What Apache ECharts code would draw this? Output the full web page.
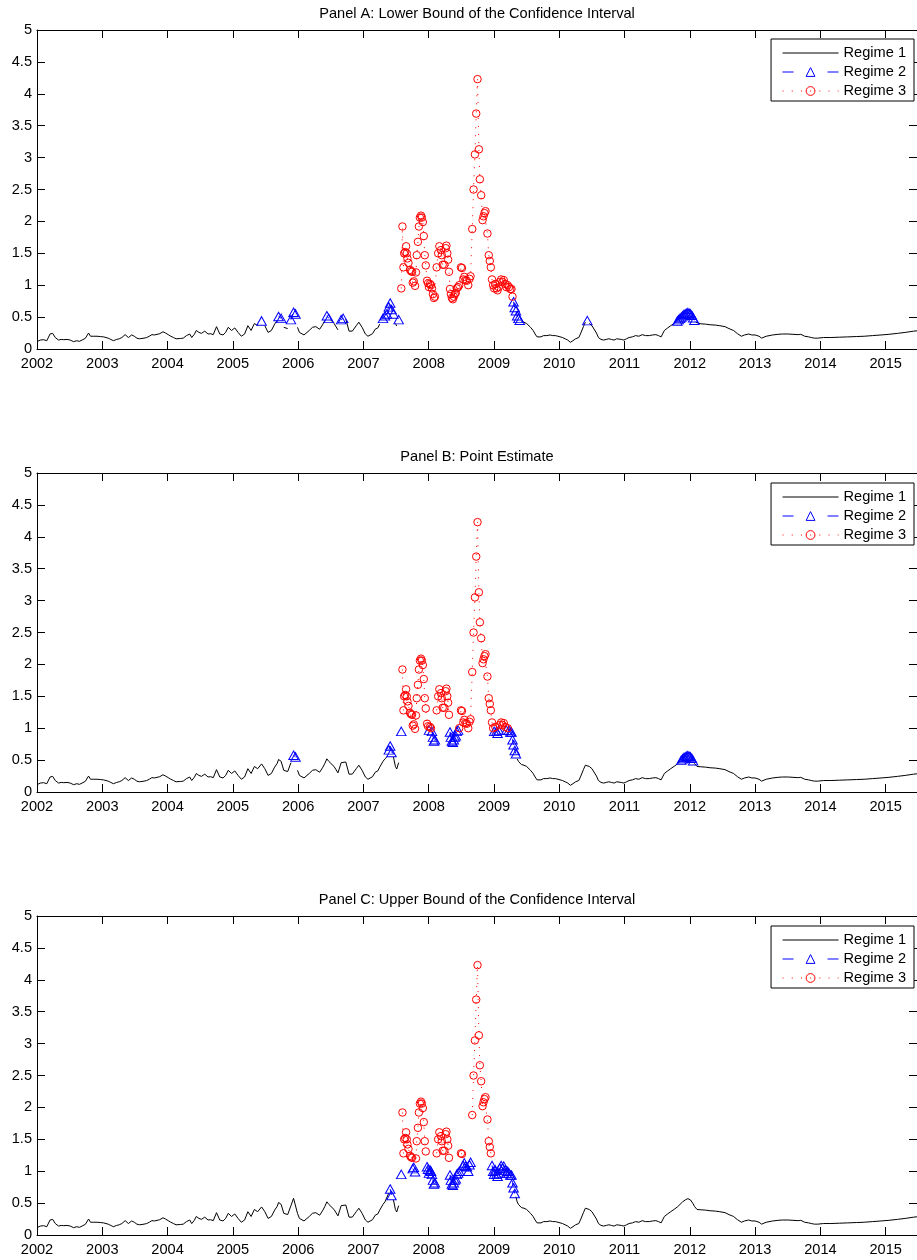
<!DOCTYPE html>
<html>
<head>
<meta charset="utf-8">
<script src="https://cdn.jsdelivr.net/npm/echarts@6/dist/echarts.min.js"></script>
<style>
html,body{margin:0;padding:0;background:#fff;}
#chart{width:917px;height:1260px;}
</style>
</head>
<body>
<div id="chart"></div>
<script>
// ---------------- DATA ----------------
const panelTitles = [
  'Panel A: Lower Bound of the Confidence Interval',
  'Panel B: Point Estimate',
  'Panel C: Upper Bound of the Confidence Interval'
];
const regimeNames = ['Regime 1', 'Regime 2', 'Regime 3'];
const xTickYears = [2002,2003,2004,2005,2006,2007,2008,2009,2010,2011,2012,2013,2014,2015];
const yTicks = [0,0.5,1,1.5,2,2.5,3,3.5,4,4.5,5];

// Observation dates (decimal years) and values, pre-crisis
const preDates = [
  2002.00,2002.05,2002.10,2002.15,2002.20,2002.24,2002.28,2002.33,2002.37,2002.41,
  2002.46,2002.51,2002.56,2002.61,2002.65,2002.69,2002.74,2002.79,2002.82,2002.87,
  2002.92,2002.97,2003.02,2003.09,2003.13,2003.17,2003.22,2003.26,2003.30,2003.35,
  2003.40,2003.45,2003.49,2003.53,2003.57,2003.60,2003.64,2003.68,2003.72,2003.76,
  2003.80,2003.83,2003.88,2003.93,2003.97,2004.01,2004.05,2004.09,2004.13,2004.16,
  2004.20,2004.24,2004.29,2004.34,2004.37,2004.41,2004.44,2004.48,2004.52,2004.57,
  2004.62,2004.66,2004.70,2004.75,2004.80,2004.85,2004.89,2004.93,2004.98,2005.03,
  2005.08,2005.13,2005.18,2005.23,2005.28,2005.33,2005.38,2005.44,2005.49,2005.54,
  2005.59,2005.64,2005.68,2005.70,2005.74,2005.78,2005.84,2005.89,2005.93,2005.96,
  2005.99,2006.02,2006.05,2006.09,2006.12,2006.17,2006.22,2006.27,2006.33,2006.38,
  2006.41,2006.44,2006.47,2006.50,2006.55,2006.61,2006.66,2006.69,2006.73,2006.78,
  2006.83,2006.89,2006.93,2006.98,2007.03,2007.07,2007.10,2007.14,2007.18,2007.22,
  2007.25,2007.30,2007.33,2007.36,2007.39,2007.41,2007.43,2007.46,2007.49,2007.51,
  2007.54
];
const preValues = [
  0.115,0.14,0.146,0.13,0.235,0.245,0.18,0.14,0.15,0.146,
  0.15,0.14,0.115,0.13,0.12,0.14,0.167,0.25,0.2,0.2,
  0.2,0.195,0.19,0.17,0.15,0.13,0.15,0.16,0.18,0.225,
  0.18,0.22,0.2,0.17,0.16,0.15,0.17,0.18,0.2,0.225,
  0.22,0.21,0.24,0.27,0.25,0.225,0.2,0.18,0.16,0.157,
  0.165,0.17,0.21,0.235,0.18,0.23,0.29,0.26,0.245,0.28,
  0.235,0.24,0.225,0.35,0.235,0.22,0.26,0.34,0.29,0.33,
  0.26,0.2,0.235,0.365,0.29,0.40,0.365,0.44,0.365,0.26,
  0.29,0.39,0.45,0.51,0.48,0.34,0.32,0.46,0.575,0.55,
  0.34,0.26,0.235,0.22,0.21,0.29,0.34,0.35,0.31,0.39,
  0.45,0.52,0.48,0.455,0.40,0.30,0.46,0.48,0.47,0.28,
  0.28,0.365,0.42,0.34,0.235,0.2,0.19,0.24,0.31,0.33,
  0.39,0.48,0.52,0.55,0.66,0.72,0.62,0.55,0.40,0.36,
  0.46
];

// Crisis period
const crisisDates = [
  2007.580,2007.598,2007.613,2007.624,2007.640,2007.654,2007.664,2007.674,2007.690,2007.715,
  2007.730,2007.745,2007.756,2007.772,2007.791,2007.805,2007.817,2007.835,2007.850,2007.865,
  2007.882,2007.895,2007.910,2007.925,2007.940,2007.955,2007.975,2007.990,2008.005,2008.020,
  2008.035,2008.050,2008.065,2008.080,2008.095,2008.122,2008.145,2008.163,2008.188,2008.200,
  2008.214,2008.239,2008.260,2008.272,2008.285,2008.298,2008.311,2008.326,2008.340,2008.355,
  2008.370,2008.385,2008.400,2008.415,2008.430,2008.450,2008.468,2008.494,2008.510,2008.530,
  2008.545,2008.565,2008.585,2008.606,2008.625,2008.641,2008.667,2008.687,2008.708,2008.728,
  2008.748,2008.769,2008.784,2008.804,2008.825,2008.840,2008.855,2008.870,2008.900,2008.920,
  2008.936,2008.952,2008.970,2008.987,2009.003,2009.020,2009.038,2009.055,2009.072,2009.089,
  2009.110,2009.130,2009.150,2009.170,2009.190,2009.210,2009.230,2009.250,2009.268,2009.284,
  2009.300,2009.318,2009.336,2009.355,2009.375,2009.395
];
const crisisValues = [
  0.95,1.92,1.28,1.50,1.52,1.61,1.50,1.42,1.35,1.24,
  1.22,1.21,1.04,1.06,0.99,1.20,1.47,1.68,1.92,2.06,
  2.09,2.06,1.99,1.77,1.47,1.31,1.07,1.03,0.97,1.02,
  1.00,0.95,0.86,0.80,0.82,1.28,1.50,1.61,1.55,1.47,
  1.32,1.32,1.58,1.62,1.50,1.40,1.21,0.94,0.86,0.80,
  0.78,0.82,0.86,0.88,0.95,0.97,1.00,1.28,1.27,1.09,
  1.13,1.08,1.07,1.00,1.10,1.14,1.88,2.50,3.05,3.69,
  4.23,3.13,2.66,2.41,2.02,2.08,2.13,2.16,1.81,1.47,
  1.38,1.28,1.09,1.00,0.95,1.02,0.95,0.92,0.97,1.05,
  1.09,1.05,1.08,1.02,0.97,1.00,0.97,0.94,0.94,0.82,
  0.74,0.65,0.60,0.52,0.48,0.45
];

// Post-crisis
const postDates = [
  2009.42,2009.46,2009.50,2009.53,2009.56,2009.60,2009.63,2009.66,2009.68,2009.72,
  2009.76,2009.81,2009.86,2009.90,2009.94,2009.98,2010.01,2010.05,2010.09,2010.13,
  2010.17,2010.21,2010.25,2010.30,2010.33,2010.37,2010.40,2010.43,2010.46,2010.50,
  2010.53,2010.57,2010.60,2010.64,2010.68,2010.72,2010.76,2010.80,2010.84,2010.88,
  2010.91,2010.95,2010.99,2011.03,2011.07,2011.12,2011.17,2011.22,2011.27,2011.32,
  2011.38,2011.43,2011.48,2011.52,2011.56,2011.59,2011.61,2011.66,2011.70,2011.73,
  2011.77,2011.81,2011.83,2011.85,2011.87,2011.89,2011.91,2011.93,2011.95,2011.97,
  2011.99,2012.01,2012.03,2012.05,2012.07,2012.09,2012.11,2012.17,2012.24,2012.31,
  2012.39,2012.46,2012.54,2012.60,2012.67,2012.73,2012.79,2012.84,2012.90,2012.95,
  2013.00,2013.06,2013.10,2013.13,2013.17,2013.20,2013.27,2013.35,2013.42,2013.50,
  2013.58,2013.66,2013.70,2013.73,2013.76,2013.78,2013.82,2013.86,2013.91,2013.96,
  2014.05,2014.16,2014.29,2014.42,2014.55,2014.67,2014.80,2014.93,2015.05,2015.18,
  2015.30,2015.43,2015.48
];
const postValues = [
  0.43,0.42,0.40,0.37,0.34,0.29,0.235,0.19,0.17,0.19,
  0.21,0.21,0.22,0.21,0.21,0.20,0.19,0.18,0.16,0.14,
  0.105,0.13,0.16,0.18,0.25,0.35,0.42,0.445,0.40,0.366,
  0.34,0.25,0.18,0.15,0.14,0.15,0.16,0.15,0.14,0.16,
  0.17,0.15,0.14,0.16,0.18,0.19,0.21,0.20,0.225,0.21,
  0.21,0.22,0.225,0.21,0.19,0.25,0.29,0.33,0.36,0.38,
  0.41,0.44,0.46,0.48,0.50,0.52,0.54,0.55,0.56,0.57,
  0.56,0.55,0.53,0.49,0.45,0.42,0.40,0.395,0.39,0.38,
  0.375,0.365,0.35,0.32,0.29,0.24,0.20,0.22,0.235,0.22,
  0.22,0.20,0.17,0.17,0.20,0.21,0.22,0.23,0.235,0.235,
  0.23,0.225,0.23,0.235,0.20,0.17,0.19,0.18,0.17,0.17,
  0.18,0.18,0.185,0.19,0.195,0.20,0.21,0.22,0.23,0.245,
  0.26,0.28,0.285
];

// Regime classification per panel: date ranges (inclusive) in regime 2 / regime 3; rest is regime 1
const regime2A = [[2005.435,2005.445],[2005.695,2005.745],[2005.885,2005.965],[2006.435,2006.475],
  [2006.655,2006.695],[2007.295,2007.465],[2007.535,2007.545],[2009.295,2009.400],
  [2010.425,2010.435],[2011.805,2012.075]];
const regime3A = [[2007.575,2009.290]];
const regime2B = [[2005.925,2005.965],[2007.385,2007.435],[2007.575,2007.585],[2008.000,2008.010],
  [2008.045,2008.100],[2008.320,2008.455],[2009.000,2009.010],[2009.035,2009.075],
  [2009.185,2009.195],[2009.225,2009.340],[2011.865,2012.055]];
const regime3B = [[2007.590,2009.290]];
const regime2C = [[2007.405,2007.435],[2007.575,2007.585],[2007.750,2007.795],[2007.970,2008.100],
  [2008.320,2008.470],[2008.525,2008.645],[2008.965,2009.320]];
const regime3C = [[2007.590,2009.290]];

// ---------------- BUILD ----------------
const dates = preDates.concat(crisisDates, postDates);
const values = preValues.concat(crisisValues, postValues);
if (dates.length !== values.length) throw new Error('length mismatch ' + dates.length + ' vs ' + values.length);

function inRanges(d, ranges) {
  return ranges.some(r => d >= r[0] - 1e-9 && d <= r[1] + 1e-9);
}
function regimeOf(d, r2, r3) {
  if (inRanges(d, r2)) return 2;
  if (inRanges(d, r3)) return 3;
  return 1;
}
const panelRegimes = [[regime2A, regime3A], [regime2B, regime3B], [regime2C, regime3C]];

const FONT = '"Liberation Sans", Arial, Helvetica, sans-serif';
const FS = 14.6;
const gridTops = [30, 473, 916];
const gridH = 319;
const titleTops = [6, 449, 892];
const legendTops = [39, 483, 926];
const X_MIN = 2002, X_MAX = 2015.48;

const styles = [
  { symbol: 'none', lineStyle: { color: '#000000', width: 1, type: 'solid' }, itemStyle: { color: '#000000' } },
  { symbol: 'triangle', symbolSize: [9.5, 8.5], lineStyle: { color: '#0000ff', width: 1, type: [6, 4] },
    itemStyle: { color: 'rgba(0,0,0,0)', borderColor: '#0000ff', borderWidth: 1 } },
  { symbol: 'circle', symbolSize: 7.5, lineStyle: { color: '#ff0000', width: 1, type: [1, 7] },
    itemStyle: { color: 'rgba(0,0,0,0)', borderColor: '#ff0000', borderWidth: 1 } }
];

const grid = [], xAxis = [], yAxis = [], series = [], title = [], legend = [];
const axisText = { fontFamily: FONT, fontSize: FS, color: '#000' };

gridTops.forEach((top, p) => {
  grid.push({ left: 37, right: -3, top: top, height: gridH, containLabel: false });
  const xCommon = {
    type: 'value', gridIndex: p, min: X_MIN, max: X_MAX, interval: 1,
    axisLine: { show: true, onZero: false, lineStyle: { color: '#000', width: 1 } },
    axisTick: { show: true, inside: true, length: 8, lineStyle: { color: '#000', width: 1 },
      customValues: xTickYears },
    splitLine: { show: false }
  };
  xAxis.push(Object.assign({}, xCommon, {
    position: 'bottom',
    axisLabel: { show: true, margin: 7, ...axisText, customValues: xTickYears,
      formatter: v => (xTickYears.indexOf(v) >= 0 ? String(v) : '') }
  }));
  xAxis.push(Object.assign({}, xCommon, { position: 'top', axisLabel: { show: false } }));
  const yCommon = {
    type: 'value', gridIndex: p, min: 0, max: 5, interval: 0.5,
    axisLine: { show: true, onZero: false, lineStyle: { color: '#000', width: 1 } },
    axisTick: { show: true, inside: true, length: 8, lineStyle: { color: '#000', width: 1 } },
    splitLine: { show: false }
  };
  yAxis.push(Object.assign({}, yCommon, {
    position: 'left',
    axisLabel: { show: true, margin: 5, ...axisText, customValues: yTicks, formatter: v => String(v) }
  }));
  yAxis.push(Object.assign({}, yCommon, { position: 'right', axisLabel: { show: false } }));

  const [r2, r3] = panelRegimes[p];
  const codes = dates.map(d => regimeOf(d, r2, r3));
  [1, 2, 3].forEach(k => {
    const st = styles[k - 1];
    series.push({
      name: regimeNames[k - 1], type: 'line', xAxisIndex: 2 * p, yAxisIndex: 2 * p,
      data: dates.map((d, i) => [d, codes[i] === k ? values[i] : '-']),
      symbol: st.symbol, symbolSize: st.symbolSize, showSymbol: k !== 1, showAllSymbol: true,
      lineStyle: st.lineStyle, itemStyle: st.itemStyle,
      connectNulls: false, silent: true, animation: false, z: 2 + k,
      emphasis: { disabled: true }
    });
  });

  title.push({
    text: panelTitles[p], left: 477, top: titleTops[p], textAlign: 'center', padding: 0,
    textStyle: { fontFamily: FONT, fontSize: FS, fontWeight: 'normal', color: '#000' }
  });

  legend.push({
    orient: 'vertical', right: 3, top: legendTops[p], align: 'left',
    backgroundColor: '#fff', borderColor: '#000', borderWidth: 1, borderRadius: 0,
    padding: [6.5, 8, 2.5, 11], itemWidth: 56, itemHeight: 11, itemGap: 4,
    selectedMode: false,
    textStyle: { fontFamily: FONT, fontSize: FS, color: '#000' },
    data: [
      { name: regimeNames[0], lineStyle: { color: '#000', width: 1, type: 'solid' },
        itemStyle: { color: 'rgba(0,0,0,0)', borderColor: 'rgba(0,0,0,0)', borderWidth: 0, opacity: 0 } },
      { name: regimeNames[1], lineStyle: { color: '#0000ff', width: 1, type: [11, 34] },
        itemStyle: { color: 'rgba(0,0,0,0)', borderColor: '#0000ff', borderWidth: 1 } },
      { name: regimeNames[2], lineStyle: { color: '#ff0000', width: 1, type: [1, 8.2] },
        itemStyle: { color: 'rgba(0,0,0,0)', borderColor: '#ff0000', borderWidth: 1 } }
    ]
  });
});

const chart = echarts.init(document.getElementById('chart'), null, { renderer: 'canvas' });
chart.setOption({
  animation: false,
  backgroundColor: '#ffffff',
  title: title, legend: legend, grid: grid, xAxis: xAxis, yAxis: yAxis, series: series
});
</script>
</body>
</html>
